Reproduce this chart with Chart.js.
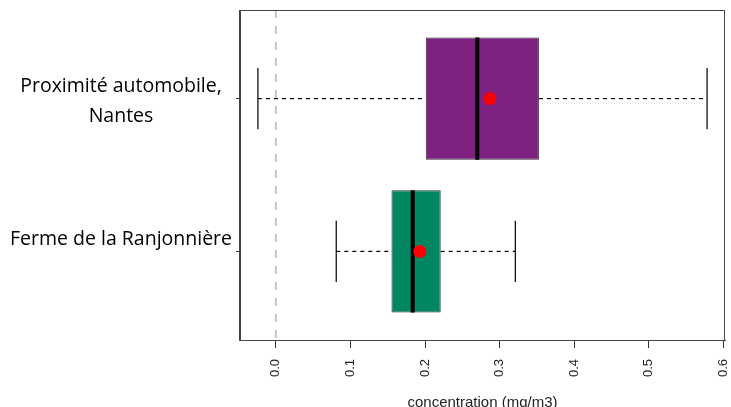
<!DOCTYPE html>
<html>
<head>
<meta charset="utf-8">
<script src="https://cdn.jsdelivr.net/npm/chart.js@4/dist/chart.umd.min.js"></script>
<style>
  html, body { margin: 0; padding: 0; background: #fff; overflow: hidden; }
  #wrap { width: 731px; height: 407px; overflow: hidden; }
</style>
</head>
<body>
<div id="wrap"><canvas id="c" width="731" height="415"></canvas></div>
<script>
// ---- data ----
const groups = ['Ferme de la Ranjonnière', 'Proximité automobile, Nantes'];
const groupLabelLines = [['Ferme de la Ranjonnière', ''], ['Proximité automobile,', 'Nantes']];
const whiskerLow  = [0.081, -0.024];
const q1          = [0.155, 0.201];
const median      = [0.1835, 0.270];
const q3          = [0.221, 0.3526];
const whiskerHigh = [0.321, 0.578];
const means       = [0.193, 0.287];
const xTickValues = [0, 0.1, 0.2, 0.3, 0.4, 0.5, 0.6];
const xTitle = 'concentration (mg/m3)';

// ---- styling / layout ----
const boxColors = ['#008761', '#7e2180'];
const X_MIN = -0.048, X_MAX = 0.602;
const Y_MIN = 0.42, Y_MAX = 2.58;
const BOX_HALF = 0.4, CAP_HALF = 0.2;

const pos = groups.map((g, i) => i + 1);
const datasets = [];

datasets.push({
  type: 'line', order: 10,
  data: [{x: 0, y: Y_MAX}, {x: 0, y: Y_MIN}],
  borderColor: '#c4c4c4', borderWidth: 2, borderDash: [8, 8],
  pointRadius: 0, pointHoverRadius: 0
});

groups.forEach((g, i) => {
  const p = pos[i];
  datasets.push({ type: 'line', order: 8,
    data: [{x: whiskerLow[i], y: p}, {x: q1[i], y: p}],
    borderColor: '#000', borderWidth: 1.2, borderDash: [4, 4], pointRadius: 0, pointHoverRadius: 0 });
  datasets.push({ type: 'line', order: 8,
    data: [{x: q3[i], y: p}, {x: whiskerHigh[i], y: p}],
    borderColor: '#000', borderWidth: 1.2, borderDash: [4, 4], pointRadius: 0, pointHoverRadius: 0 });
  datasets.push({ type: 'line', order: 8,
    data: [{x: whiskerLow[i], y: p - CAP_HALF}, {x: whiskerLow[i], y: p + CAP_HALF}],
    borderColor: '#111', borderWidth: 1.3, pointRadius: 0, pointHoverRadius: 0 });
  datasets.push({ type: 'line', order: 8,
    data: [{x: whiskerHigh[i], y: p - CAP_HALF}, {x: whiskerHigh[i], y: p + CAP_HALF}],
    borderColor: '#111', borderWidth: 1.3, pointRadius: 0, pointHoverRadius: 0 });
  datasets.push({ type: 'line', order: 2,
    data: [{x: median[i], y: p - BOX_HALF}, {x: median[i], y: p + BOX_HALF}],
    borderColor: '#000', borderWidth: 4, pointRadius: 0, pointHoverRadius: 0 });
});

datasets.push({
  type: 'bar', order: 5,
  data: groups.map((g, i) => ({x: [q1[i], q3[i]], y: pos[i]})),
  backgroundColor: boxColors, borderColor: '#333', borderWidth: 1, borderSkipped: false,
  categoryPercentage: 0.8, barPercentage: 1.0
});

datasets.push({
  type: 'line', order: 1, showLine: false,
  data: groups.map((g, i) => ({x: means[i], y: pos[i]})),
  pointRadius: 6.5, pointHoverRadius: 6.5, pointBackgroundColor: '#ff0000', pointBorderColor: '#ff0000', pointBorderWidth: 0
});

const frame = {
  id: 'frame',
  afterDatasetsDraw(chart) {
    const a = chart.chartArea, ctx = chart.ctx;
    ctx.save();
    ctx.strokeStyle = '#444';
    ctx.lineWidth = 1;
    ctx.strokeRect(a.left - 0.5, a.top + 0.5, a.right - a.left, a.bottom - a.top);
    ctx.restore();
  }
};

function noPad(s) { s.paddingTop = 0; s.paddingBottom = 0; s.paddingLeft = 0; s.paddingRight = 0; }

new Chart(document.getElementById('c'), {
  type: 'bar',
  data: { datasets },
  plugins: [frame],
  options: {
    responsive: false,
    animation: false,
    indexAxis: 'y',
    layout: { autoPadding: false, padding: { top: 10, right: 6, left: 0, bottom: 0 } },
    plugins: { legend: { display: false }, tooltip: { enabled: false } },
    scales: {
      x: {
        type: 'linear', position: 'bottom', min: X_MIN, max: X_MAX, offset: false,
        afterBuildTicks: s => { s.ticks = xTickValues.map(v => ({value: v})); },
        afterFit: s => { s.height = 75; noPad(s); },
        grid: { drawOnChartArea: false, offset: false, tickLength: 8, color: '#333' },
        border: { display: true, color: '#444' },
        ticks: {
          autoSkip: false, minRotation: 90, maxRotation: 90, padding: 11,
          color: '#222', font: { family: 'Liberation Sans', size: 13 },
          callback: v => Number(v).toFixed(1)
        },
        title: {
          display: true, text: xTitle, color: '#222',
          font: { family: 'Liberation Sans', size: 15 }, padding: { top: 0, bottom: 3 }
        }
      },
      y: {
        type: 'linear', position: 'left', min: Y_MIN, max: Y_MAX, offset: false,
        afterBuildTicks: s => { s.ticks = pos.map(v => ({value: v})); },
        afterFit: s => { s.width = 240; noPad(s); },
        grid: { drawOnChartArea: false, offset: false, tickLength: 4, color: '#333' },
        border: { display: true, color: '#444' },
        ticks: {
          autoSkip: false, crossAlign: 'center', padding: 4, labelOffset: 3,
          color: '#000', font: { family: 'Open Sans', size: 19.5, lineHeight: 1.55 },
          callback: v => groupLabelLines[pos.indexOf(v)] || ''
        }
      }
    }
  }
});
</script>
</body>
</html>
